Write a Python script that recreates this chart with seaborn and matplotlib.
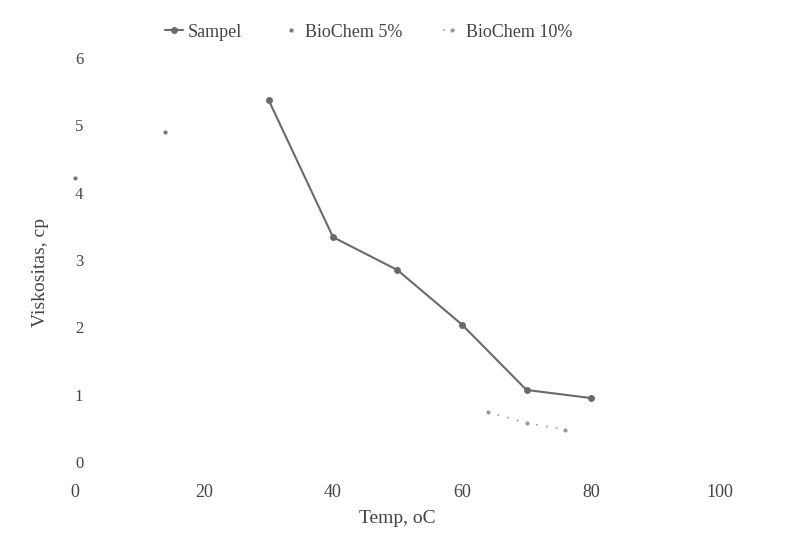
import pandas as pd
import seaborn as sns
import matplotlib.pyplot as plt

# values
sampel_temp = [30, 40, 50, 60, 70, 80]
sampel_visc = [5.38, 3.34, 2.85, 2.04, 1.07, 0.95]

bio5_temp = [0, 14]
bio5_visc = [4.22, 4.9]

bio10_temp = [64, 70, 76]
bio10_visc = [0.74, 0.58, 0.48]

x_ticks = [0, 20, 40, 60, 80, 100]
y_ticks = [0, 1, 2, 3, 4, 5, 6]

sns.set_style('white')
plt.rcParams['font.family'] = ['Liberation Serif', 'DejaVu Serif']

df = pd.concat([
    pd.DataFrame({'temp': sampel_temp, 'visc': sampel_visc, 'seri': 'Sampel'}),
    pd.DataFrame({'temp': bio5_temp, 'visc': bio5_visc, 'seri': 'BioChem 5%'}),
    pd.DataFrame({'temp': bio10_temp, 'visc': bio10_visc, 'seri': 'BioChem 10%'}),
])

fig = plt.figure(figsize=(8.04, 5.33), dpi=100)
ax = fig.add_axes([75/804, 1 - 462/533, (720 - 75)/804, (462 - 58)/533])

sns.lineplot(data=df[df.seri == 'Sampel'], x='temp', y='visc', ax=ax,
             color='#6a6a6a', linewidth=1.5, marker='o', markersize=5,
             markeredgewidth=0, label='Sampel')
sns.lineplot(data=df[df.seri == 'BioChem 5%'], x='temp', y='visc', ax=ax,
             color='#d8d8d8', linewidth=0, marker='o', markersize=3,
             markerfacecolor='#777777', markeredgewidth=0, label='BioChem 5%',
             clip_on=False)
sns.lineplot(data=df[df.seri == 'BioChem 10%'], x='temp', y='visc', ax=ax,
             color='#9a9a9a', linewidth=1.2, linestyle=(0, (1, 5)), marker='o',
             markersize=3, markeredgewidth=0, label='BioChem 10%')

ax.set_xlim(0, 100)
ax.set_ylim(0, 6)
ax.set_xticks(x_ticks)
ax.set_yticks(y_ticks)
ax.tick_params(axis='x', length=0, pad=16, labelsize=13, labelcolor='#444444')
ax.tick_params(axis='y', length=0, pad=-3, labelsize=12, labelcolor='#444444')
for lbl in ax.get_yticklabels():
    lbl.set_horizontalalignment('center')
sns.despine(ax=ax, left=True, bottom=True)

ax.set_xlabel('Temp, oC', fontsize=14, color='#444444', labelpad=6)
ax.set_ylabel('Viskositas, cp', fontsize=14, color='#444444')
ax.yaxis.set_label_coords(-0.04, 0.47)

ax.legend(loc='upper center', bbox_to_anchor=(0.455, 1.125), ncol=3, frameon=False,
          fontsize=13, labelcolor='#444444', columnspacing=2.2, handlelength=1.0,
          handletextpad=0.3)

fig.savefig('out.png', dpi=100)
